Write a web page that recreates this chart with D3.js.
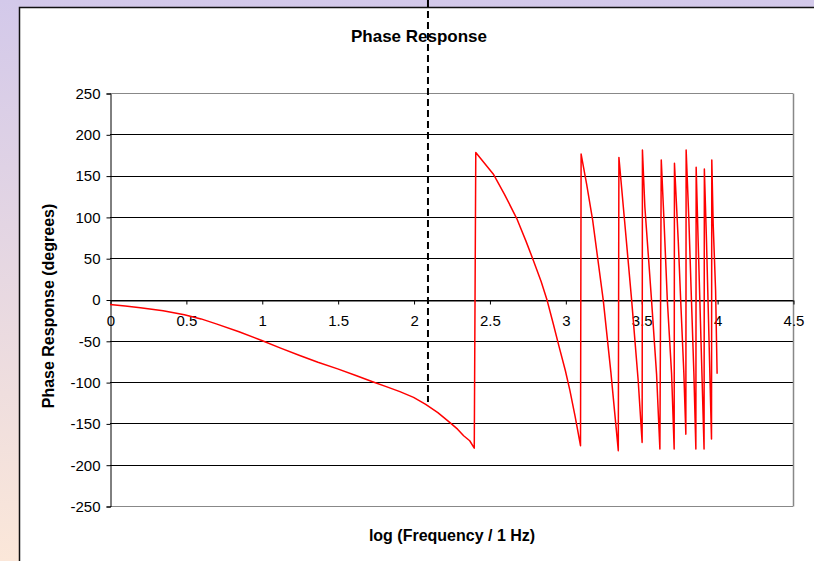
<!DOCTYPE html>
<html>
<head>
<meta charset="utf-8">
<script src="https://cdn.jsdelivr.net/npm/d3@7"></script>
<style>
  html, body { margin: 0; padding: 0; }
  body { width: 814px; height: 561px; overflow: hidden; }
  svg text { font-family: "Liberation Sans", Arial, sans-serif; fill: #000; }
  .tick text { font-size: 15px; }
  .title { font-size: 17px; font-weight: bold; }
  .label { font-size: 16px; font-weight: bold; }
</style>
</head>
<body>
<svg width="814" height="561"></svg>
<script>
// log10 of frequency and the phase
const freqLog = [0, 0.1, 0.2, 0.35, 0.49, 0.6, 0.7, 0.85, 1, 1.12, 1.25, 1.37, 1.5, 1.62, 1.73, 1.82, 1.91, 2, 2.08, 2.16, 2.24, 2.29, 2.33, 2.37, 2.4,
  2.41, 2.45, 2.525, 2.6, 2.68, 2.74, 2.79, 2.84, 2.88, 2.92, 2.96, 3, 3.03, 3.065, 3.1,
  3.104, 3.14, 3.18, 3.25, 3.3, 3.349,
  3.353, 3.39, 3.437, 3.48, 3.506,
  3.508, 3.524, 3.568, 3.601, 3.623,
  3.632, 3.65, 3.672, 3.7, 3.717,
  3.719, 3.744, 3.76, 3.781, 3.794,
  3.796, 3.814, 3.831, 3.847, 3.86,
  3.862, 3.875, 3.89, 3.914,
  3.916, 3.93, 3.944, 3.963,
  3.965, 3.974, 3.99, 4]
const phaseDeg = [-6, -8, -10, -13.5, -18.5, -23.5, -29.5, -39, -49.6, -58.5, -67.8, -76, -84, -92, -99.5, -105.5, -111.5, -118.5, -127, -137, -149, -157, -165, -171, -180,
  178, 169, 152, 127, 98, 71, 47, 22, -1, -29, -58, -86, -110, -142, -177,
  176, 140, 96, -1, -88, -183,
  172, 96, -1, -98, -173,
  181, 112, -1, -90, -181,
  169, 96, -1, -90, -181,
  165, 71, -1, -90, -163,
  181, 96, -1, -90, -181,
  160, 71, -25, -181,
  158, 71, -29, -169,
  169, 92, 11, -90]
const xTicks = [0, 0.5, 1, 1.5, 2, 2.5, 3, 3.5, 4, 4.5]
const yTicks = [-250, -200, -150, -100, -50, 0, 50, 100, 150, 200, 250]
const markerLog = 2.095   // dashed marker line

const svg = d3.select('svg')

// page background and chart frame
const defs = svg.append('defs')
const grad = defs.append('linearGradient')
  .attr('id', 'bg').attr('x1', 0).attr('y1', 0).attr('x2', 0).attr('y2', 1)
grad.append('stop').attr('offset', '0%').attr('stop-color', '#d3c9ea')
grad.append('stop').attr('offset', '100%').attr('stop-color', '#fbe7d9')
svg.append('rect').attr('width', 814).attr('height', 561).attr('fill', 'url(#bg)')
svg.append('rect')
  .attr('x', 19.5).attr('y', 7.5).attr('width', 820).attr('height', 600)
  .attr('fill', '#fff').attr('stroke', '#111').attr('stroke-width', 1.5)

const plotLeft = 110, plotRight = 793, plotTop = 93, plotBottom = 506

const x = d3.scaleLinear().domain([0, 4.5]).range([plotLeft, plotRight])
const y = d3.scaleLinear().domain([-250, 250]).range([plotBottom, plotTop])

// horizontal grid
svg.append('g')
  .selectAll('line')
  .data(yTicks)
  .enter()
  .append('line')
  .attr('x1', plotLeft).attr('x2', plotRight)
  .attr('y1', (d) => Math.round(y(d)) + 0.5)
  .attr('y2', (d) => Math.round(y(d)) + 0.5)
  .attr('stroke', (d) => (d === 250 || d === -250) ? '#888' : '#000')
  .attr('stroke-width', 1)

// plot area right border
svg.append('line')
  .attr('x1', plotRight + 0.5).attr('x2', plotRight + 0.5)
  .attr('y1', plotTop + 0.5).attr('y2', plotBottom + 0.5)
  .attr('stroke', '#888').attr('stroke-width', 1.5)

// y axis
const yAxis = svg.append('g')
  .attr('transform', `translate(${plotLeft + 0.5}, 0.5)`)
  .call(d3.axisLeft(y).tickValues(yTicks).tickSize(4).tickPadding(6).tickFormat((d) => String(d)))
yAxis.select('.domain').attr('stroke', '#000')
yAxis.selectAll('.tick line').attr('stroke', '#000')
yAxis.selectAll('.tick text').attr('font-family', null).attr('font-size', null)

// x axis sits on zero
const xAxis = svg.append('g')
  .attr('transform', `translate(0.5, ${Math.round(y(0)) + 0.5})`)
  .call(d3.axisBottom(x).tickValues(xTicks).tickSize(4).tickPadding(11).tickSizeOuter(0)
    .tickFormat((d) => String(d)))
xAxis.select('.domain').attr('stroke', '#000')
xAxis.selectAll('.tick line').attr('stroke', '#000')
xAxis.selectAll('.tick text').attr('font-family', null).attr('font-size', null)

// phase curve
const pts = freqLog.map((f, i) => [f, phaseDeg[i]])
svg.append('path')
  .datum(pts)
  .attr('fill', 'none')
  .attr('stroke', '#ff0000')
  .attr('stroke-width', 1.5)
  .attr('stroke-linejoin', 'round')
  .attr('d', d3.line().x((d) => x(d[0])).y((d) => y(d[1])))

// dashed marker
svg.append('line')
  .attr('x1', x(markerLog)).attr('x2', x(markerLog))
  .attr('y1', 0).attr('y2', 402)
  .attr('stroke', '#000').attr('stroke-width', 2)
  .attr('stroke-dasharray', '7,4')

svg.append('text')
  .attr('class', 'title')
  .attr('x', 419).attr('y', 42)
  .attr('text-anchor', 'middle')
  .text('Phase Response')

svg.append('text')
  .attr('class', 'label')
  .attr('x', 452).attr('y', 541)
  .attr('text-anchor', 'middle')
  .text('log (Frequency / 1 Hz)')

svg.append('text')
  .attr('class', 'label')
  .attr('transform', 'translate(54, 306) rotate(-90)')
  .attr('text-anchor', 'middle')
  .text('Phase Response (degrees)')
</script>
</body>
</html>
